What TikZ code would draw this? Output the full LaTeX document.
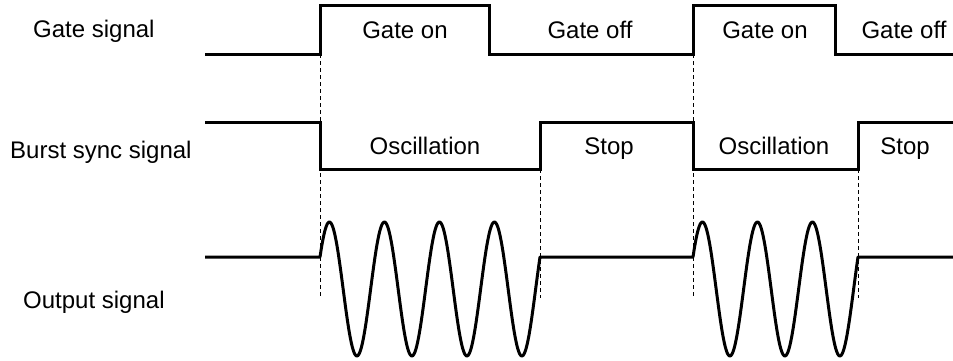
\documentclass[tikz,border=0pt]{standalone}
\usepackage{fontspec}
\setmainfont{Liberation Sans}
\begin{document}
\begin{tikzpicture}[
  x=1pt, y=-1pt,
  font=\fontsize{24}{28}\selectfont,
  wave/.style={line width=3pt, line join=miter},
  guide/.style={line width=1pt, dash pattern=on 4pt off 3pt},
  sig/.style={anchor=base west, inner sep=0pt},
  lbl/.style={anchor=base, inner sep=0pt},
]
\useasboundingbox (0,0) rectangle (953,360);

% ── Signal names ─────────────────────────────────────────────
\node[sig] (ngate)  at (33,37)  {Gate signal};
\node[sig] (nburst) at (10,158) {Burst sync signal};
\node[sig] (nout)   at (23,308) {Output signal};

% ── Gate signal ──────────────────────────────────────────────
\draw[wave] (205,54) -- (320,54) -- (320,5) -- (489,5) -- (489,54)
  -- (693,54) -- (693,5) -- (835,5) -- (835,54) -- (953,54);
\node[lbl] (gon1)  at (405,38) {Gate on};
\node[lbl] (goff1) at (590,38) {Gate off};
\node[lbl] (gon2)  at (765,38) {Gate on};
\node[lbl] (goff2) at (904,38) {Gate off};

% ── Burst sync signal ────────────────────────────────────────
\draw[wave] (205,122) -- (320,122) -- (320,169) -- (540,169) -- (540,122)
  -- (693,122) -- (693,169) -- (858,169) -- (858,122) -- (953,122);
\node[lbl] (osc1)  at (425,154) {Oscillation};
\node[lbl] (stop1) at (609,154) {Stop};
\node[lbl] (osc2)  at (774,154) {Oscillation};
\node[lbl] (stop2) at (905,154) {Stop};

% ── Output signal: bursts of a sine, period 55 (360/55 = 6.5455) ──
\draw[wave, line join=round] (205,257) -- (320,257)
  -- plot[domain=320:540, samples=240] (\x, {289-67*sin(28.5+(\x-320)*6.5455)})
  -- (693,257)
  -- plot[domain=693:858, samples=180] (\x, {289-67*sin(28.5+(\x-693)*6.5455)})
  -- (953,257);

% ── Timing guides ────────────────────────────────────────────
\foreach \t/\top in {320/54, 540/169, 693/54, 858/169}{
  \draw[guide] (\t,\top) -- (\t,298);
}

\end{tikzpicture}
\end{document}
